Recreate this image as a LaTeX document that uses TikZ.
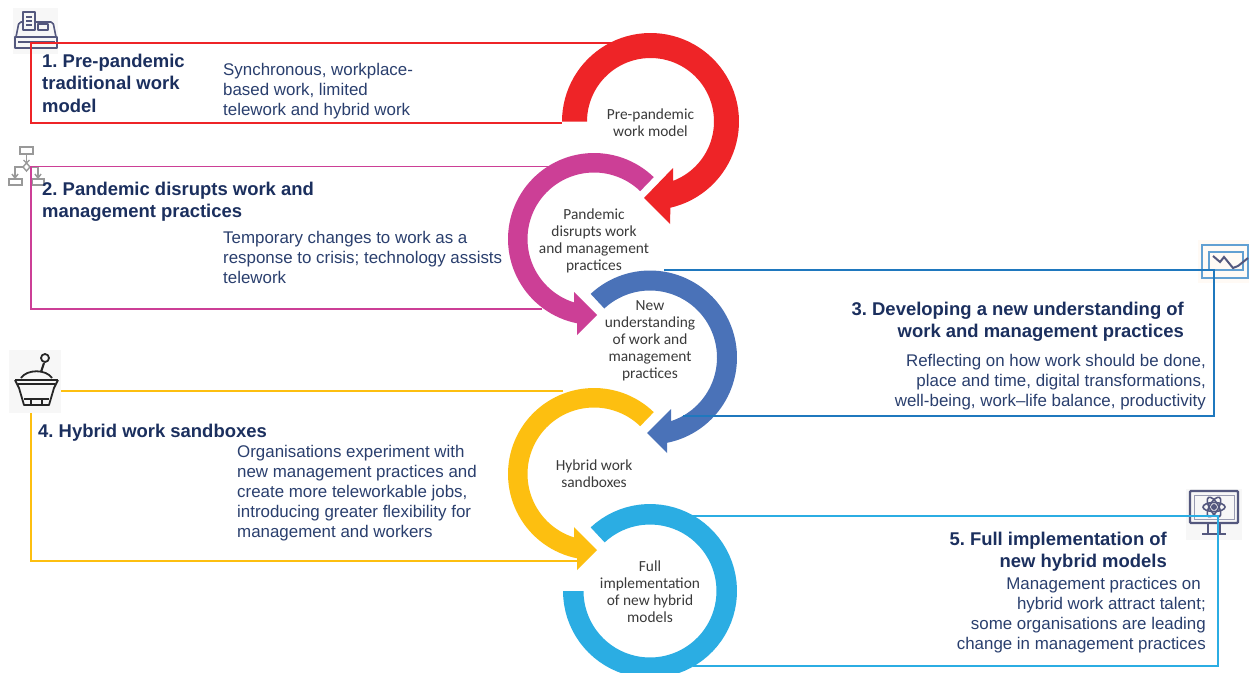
\documentclass[tikz,border=0pt]{standalone}
\usepackage{fontspec}
\setmainfont{Liberation Sans}
\newfontfamily\carlitofont{Carlito}
\definecolor{navy}{HTML}{1B2F5E}
\definecolor{bodyblue}{HTML}{2A3F6E}
\definecolor{labelgrey}{HTML}{3A3A3A}
\definecolor{cred}{HTML}{EE2427}
\definecolor{cmag}{HTML}{CC3F96}
\definecolor{cblue}{HTML}{4A72B8}
\definecolor{cline}{HTML}{1F78BE}
\definecolor{cyel}{HTML}{FDBF10}
\definecolor{csky}{HTML}{2BADE3}
\definecolor{iconink}{HTML}{54587E}
\tikzset{
  x=1pt,y=-1pt,
  title/.style={anchor=north west,inner sep=0pt,align=left,text=navy,font=\frenchspacing\fontsize{18.45}{22.4}\selectfont\bfseries},
  titleR/.style={title,anchor=north east,align=right},
  body/.style={anchor=north west,inner sep=0pt,align=left,text=bodyblue,font=\fontsize{16.9}{20}\selectfont},
  bodyR/.style={body,anchor=north east,align=right},
  ringlabel/.style={inner sep=0pt,align=center,text=labelgrey,font=\carlitofont\fontsize{15.4}{17}\selectfont},
  frame/.style={line width=1.5pt,line join=miter},
  ink/.style={draw=iconink,line width=1.6pt,line join=round},
  flow/.style={draw=gray!80,line width=1.4pt},
  pot/.style={draw=black!85,line width=1.8pt,line join=round},
  arcs/.style={samples=70},
}
\begin{document}
\begin{tikzpicture}
\useasboundingbox (0,0) rectangle (1249,672);
\clip (0,0) rectangle (1249,672);
\fill[white] (0,0) rectangle (1249,672);

% ---------- rings
\fill[cred] plot[arcs,domain=180:437] ({650.5+88.5*cos(\x)},{121.5+88.5*sin(\x)}) -- (670,224) -- (644,198) -- (673,168) -- (673,182)
  -- plot[arcs,domain=430:180] ({650.5+63.5*cos(\x)},{121.5+63.5*sin(\x)}) -- cycle;
\fill[cmag] plot[arcs,domain=-46:-258.6] ({594+86*cos(\x)},{239+86*sin(\x)}) -- (577,335) -- (597,315) -- (574,292) -- (574,303)
  -- plot[arcs,domain=-252.6:-46] ({594+66.5*cos(\x)},{239+66.5*sin(\x)}) -- cycle;
\fill[cblue] plot[arcs,domain=-133:78.7] ({650+87*cos(\x)},{357.5+87*sin(\x)}) -- (667,453) -- (647,433) -- (671,409) -- (671,421)
  -- plot[arcs,domain=71.8:-133] ({650+67*cos(\x)},{357.5+67*sin(\x)}) -- cycle;
\fill[cyel] plot[arcs,domain=-46:-258.6] ({594+86*cos(\x)},{474+86*sin(\x)}) -- (577,570) -- (597,550) -- (574,527) -- (574,538)
  -- plot[arcs,domain=-252.6:-46] ({594+66.5*cos(\x)},{474+66.5*sin(\x)}) -- cycle;
\fill[csky] plot[arcs,domain=-133:180] ({650+87*cos(\x)},{591+87*sin(\x)}) -- plot[arcs,domain=180:-133] ({650+66.5*cos(\x)},{591+66.5*sin(\x)}) -- cycle;

% ---------- ring labels
\node[ringlabel] (r1) at (650.5,123) {Pre-pandemic\\work model};
\node[ringlabel] (r2) at (594,240.5) {Pandemic\\disrupts work\\and management\\practices};
\node[ringlabel] (r3) at (650,341) {New\\understanding\\of work and\\management\\practices};
\node[ringlabel] (r4) at (594,474) {Hybrid work\\sandboxes};
\node[ringlabel] (r5) at (650,592) {Full\\implementation\\of new hybrid\\models};

% ---------- end points of the connectors
\coordinate (c1a) at (612,43);   \coordinate (c1b) at (31,43);  \coordinate (c1c) at (31,123);  \coordinate (c1d) at (562,123);
\coordinate (c2a) at (548,166.5);\coordinate (c2b) at (31,166.5);\coordinate (c2c) at (31,309); \coordinate (c2d) at (542,309);
\coordinate (c3a) at (664,270);  \coordinate (c3b) at (1214,270);\coordinate (c3c) at (1214,416);\coordinate (c3d) at (683,416);
\coordinate (c4a) at (563,391);  \coordinate (c4b) at (61,391); \coordinate (c4c) at (31,413);  \coordinate (c4d) at (31,561); \coordinate (c4e) at (578,561);
\coordinate (c5a) at (692,516);  \coordinate (c5b) at (1218,516);\coordinate (c5c) at (1218,666);\coordinate (c5d) at (693,666);

% ---------- icons
% cash register
\fill[black!3] (13,8) rectangle (58,54);
\draw[ink,rounded corners=2pt] (16,37) -- (19,22) -- (53,22) -- (56,37);
\draw[ink] (15,37) rectangle (57,48);
\draw[ink] (18,42) -- (55,42);
\draw[ink,fill=black!3] (23,12) rectangle (35,30);
\draw[ink] (26,17) -- (32,17) (26,21) -- (32,21) (26,25) -- (32,25);
\draw[ink] (38,24) rectangle (48,30);
% flow chart
\draw[flow] (20,147) rectangle (33,154);
\draw[flow] (9,179) rectangle (22,185);
\draw[flow] (32,179) rectangle (44,185);
\draw[flow] (26.5,154) -- (26.5,163);
\draw[flow] (26.5,163) -- (30,167) -- (26.5,171) -- (23,167) -- cycle;
\draw[flow] (23,167) -- (15,167) -- (15,178) (30,167) -- (38,167) -- (38,178);
\draw[flow] (12,174) -- (15,178) -- (18,174) (35,174) -- (38,178) -- (41,174) (23.5,160) -- (26.5,163) -- (29.5,160);
% pot
\fill[black!3] (9,350) rectangle (61,413);
\draw[pot] (45,358) circle (4);
\draw[pot,line width=2.2pt] (44,363) -- (41,372);
\draw[pot] (21,378) .. controls (27,369) and (46,369) .. (52,378);
\draw[pot,line width=2pt] (15,380) -- (58,380);
\draw[pot,line width=1.4pt] (18,384) -- (55,384);
\draw[pot] (15,380) -- (19,388) -- (24,405) -- (49,405) -- (54,388) -- (58,380);
\draw[pot] (24,399) -- (49,399) (31,405) -- (31,399) (42,405) -- (42,399);
% chart screen
\fill[orange!4] (1198,240) rectangle (1249,283);
\draw[cline!70!white,line width=2.4pt] (1202,245) rectangle (1248,278);
\draw[cline!70!white,line width=1.4pt] (1209,252) rectangle (1243,270);
\draw[iconink,line width=2pt] (1213,256) -- (1220,262) -- (1224,257) -- (1233,268) -- (1238,266) -- (1248,258);
% monitor
\fill[black!3] (1186,489) rectangle (1242,540);
\draw[iconink,line width=2.4pt,rounded corners=1pt] (1190,491) rectangle (1238,523);
\draw[iconink!60,line width=1pt] (1194,495) rectangle (1234,519);
\draw[iconink,line width=2.2pt] (1208,523) -- (1208,533) (1220,523) -- (1220,533) (1202,534) -- (1226,534);
\fill[iconink] (1214,507) circle (3);
\draw[iconink,line width=1.6pt] (1214,507) ellipse [x radius=11,y radius=4.5];
\draw[iconink,line width=1.6pt,rotate around={60:(1214,507)}] (1214,507) ellipse [x radius=11,y radius=4.5];
\draw[iconink,line width=1.6pt,rotate around={-60:(1214,507)}] (1214,507) ellipse [x radius=11,y radius=4.5];

% ---------- connectors
\draw[frame,cred] (c1a) -- (c1b) -- (c1c) -- (c1d);
\draw[frame,cmag] (c2a) -- (c2b) -- (c2c) -- (c2d);
\draw[frame,cline] (c3a) -- (c3b) -- (c3c) -- (c3d);
\draw[frame,cyel] (c4a) -- (c4b);
\draw[frame,cyel] (c4c) -- (c4d) -- (c4e);
\draw[frame,csky] (c5a) -- (c5b) -- (c5c) -- (c5d);

% ---------- texts
\node[title] (t1) at (42,54) {1. Pre-pandemic\\traditional work\\model};
\node[body] (b1) at (223,63) {Synchronous, workplace-\\based work, limited\\telework and hybrid work};
\node[title] (t2) at (42,181.5) {2. Pandemic disrupts work and\\management practices};
\node[body] (b2) at (223,231) {Temporary changes to work as a\\response to crisis; technology assists\\telework};
\node[titleR] (t3) at (1184,301.5) {3. Developing a new understanding of\\work and management practices};
\node[bodyR] (b3) at (1206,354) {Reflecting on how work should be done,\\place and time, digital transformations,\\well-being, work--life balance, productivity};
\node[title] (t4) at (38,423.5) {4. Hybrid work sandboxes};
\node[body] (b4) at (237,445) {Organisations experiment with\\new management practices and\\create more teleworkable jobs,\\introducing greater flexibility for\\management and workers};
\node[titleR] (t5) at (1167,532) {5. Full implementation of\\new hybrid models};
\node[bodyR] (b5) at (1206,577) {Management practices on\hspace*{5pt}\\hybrid work attract talent;\\some organisations are leading\\change in management practices};
\end{tikzpicture}
\end{document}
